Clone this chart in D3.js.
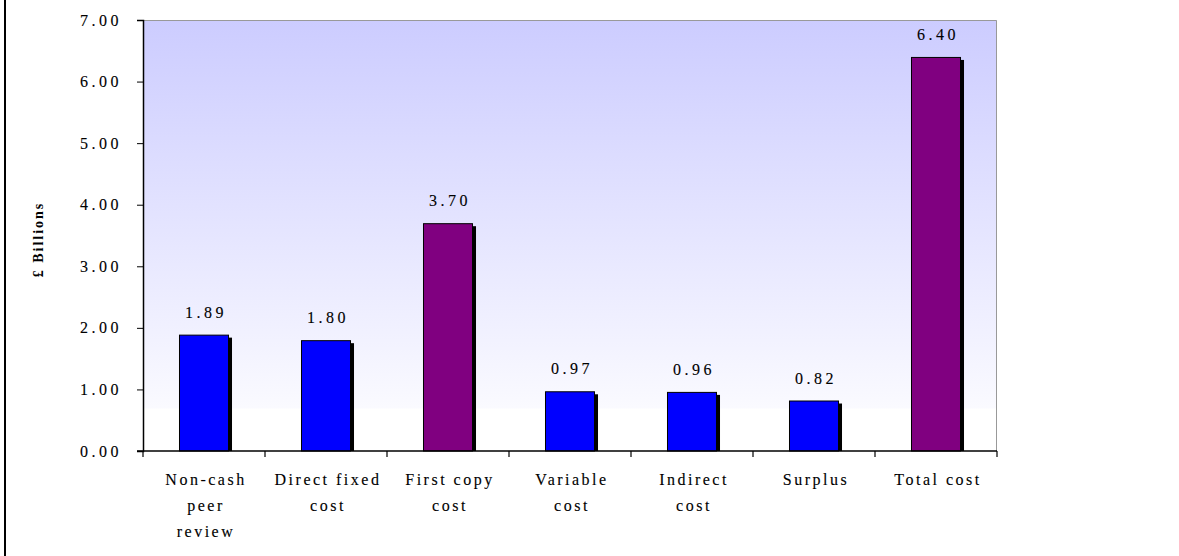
<!DOCTYPE html>
<html><head><meta charset="utf-8">
<script src="https://cdn.jsdelivr.net/npm/d3@7"></script>
<style>body{margin:0;background:#fff}svg{display:block}</style>
</head><body>
<script>
const categories = [["Non-cash","peer","review"],["Direct fixed","cost"],["First copy","cost"],["Variable","cost"],["Indirect","cost"],["Surplus"],["Total cost"]];
const values = [1.89,1.80,3.70,0.97,0.96,0.82,6.40];
const valueLabels = ["1.89","1.80","3.70","0.97","0.96","0.82","6.40"];
const barColors = ["#0000ff","#0000ff","#800080","#0000ff","#0000ff","#0000ff","#800080"];
const yTicks = [0,1,2,3,4,5,6,7];
const yTitle = "£ Billions";

const W=1179,H=556;
const m={l:143,t:20,r:997,b:451};
const svg=d3.select("body").append("svg").attr("width",W).attr("height",H);
const defs=svg.append("defs");
const g=defs.append("linearGradient").attr("id","bg").attr("x1",0).attr("y1",0).attr("x2",0).attr("y2",1);
g.append("stop").attr("offset","0%").attr("stop-color","#ccccff");
g.append("stop").attr("offset","90%").attr("stop-color","#fafaff");
g.append("stop").attr("offset","90.3%").attr("stop-color","#ffffff");
g.append("stop").attr("offset","100%").attr("stop-color","#ffffff");

svg.append("line").attr("x1",5).attr("x2",5).attr("y1",0).attr("y2",H).attr("stroke","#000").attr("stroke-width",2);

const x=d3.scaleBand().domain(d3.range(categories.length)).range([m.l,m.r]).paddingInner(0.59).paddingOuter(0.295);
const xb=d3.scaleBand().domain(d3.range(categories.length)).range([m.l,m.r]);
const y=d3.scaleLinear().domain([0,7]).range([m.b,m.t]);

svg.append("rect").attr("x",m.l).attr("y",m.t).attr("width",m.r-m.l).attr("height",m.b-m.t).attr("fill","url(#bg)");
svg.append("path").attr("d",`M${m.l},${m.t+0.5}H${m.r-0.5}V${m.b}`).attr("fill","none").attr("stroke","#999").attr("stroke-width",1);

svg.selectAll(".sh").data(values).join("rect")
 .attr("x",(d,i)=>x(i)+3).attr("y",d=>y(d)+3).attr("width",x.bandwidth()).attr("height",d=>m.b-y(d)-3).attr("fill","#000");
svg.selectAll(".bar").data(values).join("rect")
 .attr("x",(d,i)=>x(i)+0.5).attr("y",d=>y(d)+0.5).attr("width",x.bandwidth()-1).attr("height",d=>m.b-y(d)-0.5)
 .attr("fill",(d,i)=>barColors[i]).attr("stroke","#000").attr("stroke-width",1);

const font="'Liberation Serif','Times New Roman',serif";
const thick = sel => sel.attr("stroke","#000").attr("stroke-width",0.12);
svg.selectAll(".vl").data(values).join("text")
 .attr("x",(d,i)=>x(i)+x.bandwidth()/2+2).attr("y",d=>y(d)-17)
 .attr("text-anchor","middle").attr("font-family",font).attr("font-size",16).attr("letter-spacing","3.5px")
 .call(thick)
 .text((d,i)=>valueLabels[i]);

const ya=svg.append("g").attr("transform",`translate(${m.l},0)`)
 .call(d3.axisLeft(y).tickValues(yTicks).tickSize(6).tickPadding(15).tickFormat(d3.format(".2f")));
ya.select(".domain").attr("stroke","#000").attr("stroke-width",1.5);
ya.selectAll("text").attr("font-family",font).attr("font-size",16).attr("letter-spacing","3.5px").attr("fill","#000").call(thick);

const xa=svg.append("g").attr("transform",`translate(0,${m.b})`);
xa.append("line").attr("x1",m.l-6).attr("x2",m.r).attr("stroke","#000").attr("stroke-width",1.5);
const ticks=d3.range(categories.length+1).map(i=>i<categories.length?xb(i):m.r);
xa.selectAll(".tk").data(ticks).join("line").attr("x1",d=>d).attr("x2",d=>d).attr("y1",0).attr("y2",6).attr("stroke","#000").attr("stroke-width",1.2);
xa.selectAll(".cl").data(categories).join("text")
 .attr("text-anchor","middle").attr("font-family",font).attr("font-size",16).attr("letter-spacing","2.5px")
 .call(thick)
 .each(function(d,i){
   const t=d3.select(this);
   d.forEach((ln,j)=>t.append("tspan").attr("x",xb(i)+xb.bandwidth()/2+2).attr("y",34+j*26).text(ln));
 });

svg.append("text").attr("transform",`translate(43,${(m.t+m.b)/2+4}) rotate(-90)`)
 .attr("text-anchor","middle").attr("font-family",font).attr("font-size",14).attr("font-weight","bold").attr("letter-spacing","2px")
 .text(yTitle);
</script>
</body></html>
